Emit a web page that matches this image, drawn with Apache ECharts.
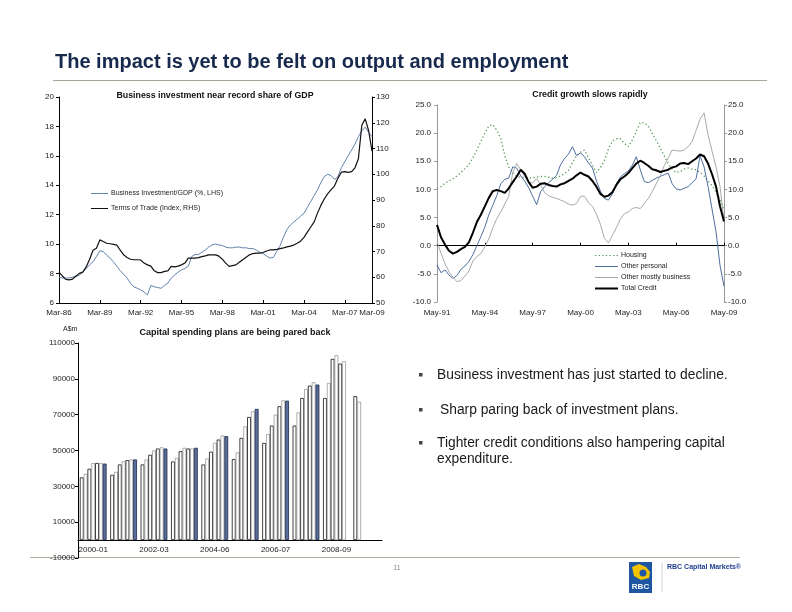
<!DOCTYPE html>
<html><head><meta charset="utf-8">
<script src="https://cdn.jsdelivr.net/npm/echarts@6/dist/echarts.min.js"></script>
<style>html,body{margin:0;padding:0;background:#fff}#c{width:792px;height:612px}</style>
</head><body><div id="c"></div>
<script>
const FONT = '"Liberation Sans", Arial, sans-serif';

// ---- Chart 1: Business investment near record share of GDP (quarterly)
const bizQuarters = [
'Mar-86','Jun-86','Sep-86','Dec-86','Mar-87','Jun-87','Sep-87','Dec-87',
'Mar-88','Jun-88','Sep-88','Dec-88','Mar-89','Jun-89','Sep-89','Dec-89',
'Mar-90','Jun-90','Sep-90','Dec-90','Mar-91','Jun-91','Sep-91','Dec-91',
'Mar-92','Jun-92','Sep-92','Dec-92','Mar-93','Jun-93','Sep-93','Dec-93',
'Mar-94','Jun-94','Sep-94','Dec-94','Mar-95','Jun-95','Sep-95','Dec-95',
'Mar-96','Jun-96','Sep-96','Dec-96','Mar-97','Jun-97','Sep-97','Dec-97',
'Mar-98','Jun-98','Sep-98','Dec-98','Mar-99','Jun-99','Sep-99','Dec-99',
'Mar-00','Jun-00','Sep-00','Dec-00','Mar-01','Jun-01','Sep-01','Dec-01',
'Mar-02','Jun-02','Sep-02','Dec-02','Mar-03','Jun-03','Sep-03','Dec-03',
'Mar-04','Jun-04','Sep-04','Dec-04','Mar-05','Jun-05','Sep-05','Dec-05',
'Mar-06','Jun-06','Sep-06','Dec-06','Mar-07','Jun-07','Sep-07','Dec-07',
'Mar-08','Jun-08','Sep-08','Dec-08','Mar-09'];
const bizInvestGDP = [
7.75,7.7,7.7,7.7, 7.75,7.8,7.9,8.1, 8.35,8.6,8.8,9.15, 9.55,9.5,9.25,9.05,
8.8,8.5,8.2,7.95, 7.7,7.35,7.1,7.0, 6.9,6.75,6.55,7.2, 7.1,7.05,7.0,7.2,
7.35,7.7,7.9,8.1, 8.25,8.35,8.5,9.15, 9.3,9.3,9.45,9.6, 9.8,9.95,10.0,9.95,
9.9,9.8,9.75,9.75, 9.8,9.8,9.75,9.75, 9.7,9.7,9.6,9.45, 9.35,9.2,9.05,9.1,
9.5,9.9,10.5,11.0, 11.3,11.5,11.7,11.9, 12.1,12.5,12.9,13.3, 13.7,14.2,14.6,14.75,
14.65,14.4,14.6,15.2, 15.6,16.0,16.4,16.8, 17.3,17.7,17.95,17.6, 17.3];
const termsOfTrade = [
62,60.5,59.2,59, 59.3,60.5,61.5,62, 64,67,70.5,71.3, 74.5,73.9,73.2,73,
72.8,72.5,70.5,68.7, 67.7,67,66.8,66.8, 66.7,65.5,64.8,64.3, 62.5,61.8,61.8,62.3,
62.5,64.2,64,64.3, 64.8,65.5,67.4,67.4, 67.4,67.6,68,68.3, 68.7,68.7,68.7,68.2,
67,65.5,64.2,64.5, 64.8,65.8,66.8,67.8, 68.7,69.2,69.4,69.4, 69.6,70.2,70.6,70.6,
70.8,71.1,71.4,71.8, 72.1,72.5,73.2,74, 75.5,77.5,79.5,81.5, 85,88,90.5,92.5,
94,95.5,98.5,100.8, 101,100.7,101,102.5, 106,119,121.5,117, 109];

// ---- Chart 2: Credit growth slows rapidly (quarterly readings, % y/y)
const creditMonths = [
'May-91','Aug-91','Nov-91','Feb-92','May-92','Aug-92','Nov-92','Feb-93',
'May-93','Aug-93','Nov-93','Feb-94','May-94','Aug-94','Nov-94','Feb-95',
'May-95','Aug-95','Nov-95','Feb-96','May-96','Aug-96','Nov-96','Feb-97',
'May-97','Aug-97','Nov-97','Feb-98','May-98','Aug-98','Nov-98','Feb-99',
'May-99','Aug-99','Nov-99','Feb-00','May-00','Aug-00','Nov-00','Feb-01',
'May-01','Aug-01','Nov-01','Feb-02','May-02','Aug-02','Nov-02','Feb-03',
'May-03','Aug-03','Nov-03','Feb-04','May-04','Aug-04','Nov-04','Feb-05',
'May-05','Aug-05','Nov-05','Feb-06','May-06','Aug-06','Nov-06','Feb-07',
'May-07','Aug-07','Nov-07','Feb-08','May-08','Aug-08','Nov-08','Feb-09','May-09'];
const housing = [
10.2,10.5,11.1,11.5,11.9,12.4,13.0,13.7,14.4,15.6,
17.0,18.5,20.0,21.3,21.5,20.5,19.1,16.0,14.0,13.0,
12.3,12.2,12.1,12.0,12.1,12.2,12.3,12.3,12.2,12.0,
12.1,12.4,12.8,13.4,14.8,16.0,16.6,17.0,15.6,14.3,
13.0,13.9,15.1,17.2,18.6,19.0,19.0,18.2,17.6,18.8,
20.3,21.9,21.8,21.3,20.0,18.7,17.4,16.0,14.6,13.6,
13.0,13.2,13.6,13.8,13.6,13.5,13.0,12.4,11.5,10.7,
9.5,8.2,6.3];
const otherPersonal = [
-3.4,-4.8,-4.3,-5.2,-5.8,-5.3,-4.2,-3.6,-2.8,-1.6,
0.0,1.6,3.3,5.5,7.2,8.9,11.0,11.8,12.0,14.0,
13.8,12.4,11.5,10.3,8.8,7.3,9.6,10.5,11.2,11.8,
12.5,14.4,15.5,16.3,17.6,16.0,16.5,15.8,14.7,13.8,
11.5,9.7,8.4,8.1,9.2,11.0,12.2,12.8,13.3,14.3,
15.8,13.5,11.4,11.2,11.6,12.0,12.3,12.6,12.9,11.0,
10.1,9.9,10.2,10.5,11.2,11.9,16.0,14.0,10.5,6.5,
2.5,-3.5,-7.2];
const otherBusiness = [
0.7,-1.3,-3.2,-4.6,-5.6,-6.4,-6.2,-5.4,-4.5,-2.7,
-1.9,-1.4,-0.2,1.2,3.2,4.8,6.0,7.4,8.8,13.0,
14.6,13.5,12.3,11.2,11.2,11.9,10.8,9.4,8.9,8.6,
8.4,8.1,7.8,7.4,7.2,7.5,8.8,8.8,7.6,7.0,
5.6,3.8,1.3,0.5,1.8,3.2,4.7,5.7,6.0,6.6,
6.8,6.6,7.5,8.4,9.6,11.0,12.4,14.2,15.6,17.0,
16.9,16.8,17.0,17.6,18.5,20.5,22.5,23.6,19.7,16.8,
14.0,10.5,4.5];
const totalCredit = [
3.7,1.5,0.2,-0.9,-1.4,-1.1,-0.6,-0.2,0.6,2.3,
4.2,5.5,7.0,8.5,9.7,9.9,9.7,9.4,10.2,11.3,
12.3,13.5,12.8,11.3,10.3,10.5,11.0,11.1,10.8,10.6,
10.5,10.9,11.1,11.5,11.9,12.5,13.0,12.6,12.3,11.5,
10.5,9.2,8.7,8.9,9.5,10.8,11.8,12.3,12.9,13.8,
14.6,15.1,14.7,14.2,13.6,13.4,13.1,13.3,13.5,13.9,
14.1,14.6,14.7,14.5,15.0,15.5,16.2,15.9,14.6,12.7,
10.5,7.0,4.3];

// ---- Chart 3: Capital spending plans (A$m), successive estimates per financial year
const capexYears = ['2000-01','2001-02','2002-03','2003-04','2004-06','2005-06','2006-07','2007-08','2008-09','2009-10'];
const capexEst1 = [35000,36400,42200,43900,42200,45200,54200,63900,79300,80300];
const capexEst2 = [37000,38100,45000,45900,45500,49000,59200,71300,87700,77300];
const capexEst3 = [39800,42200,47600,49600,49300,57000,63900,79300,101100,null];
const capexEst4 = [43000,44000,50000,51500,54300,63500,70000,84300,103200,null];
const capexEst5 = [43000,44600,51100,51100,56100,68700,74700,86200,98500,null];
const capexEst6 = [43000,45000,51800,51100,58400,71900,78000,88100,99800,null];
const capexActual = [42700,45000,51100,51500,58000,73200,77800,86800,null,null];

const lab = {fontSize:8, color:'#222', fontFamily:FONT};
const blk = {color:'#000', width:1};
const bizInt = (i) => i % 12 === 0 || i === bizQuarters.length - 1;
const DOTS = 'path://M0,0h1.3v1h-1.3zM3.5,0h1.3v1h-1.3zM7,0h1.3v1h-1.3zM10.5,0h1.3v1h-1.3zM14,0h1.3v1h-1.3zM17.5,0h1.3v1h-1.3zM21,0h1.3v1h-1.3z';

function txt(x, y, text, font, fill, align) {
  return {type:'text', x:x, y:y, silent:true,
    style:{text:text, font:font, fill:fill||'#222', align:align||'left', verticalAlign:'middle',
           textAlign:align||'left', textVerticalAlign:'middle'}};
}
function hline(x1, y1, x2, y2, color, w) {
  return {type:'line', silent:true, shape:{x1:x1,y1:y1,x2:x2,y2:y2}, style:{stroke:color, lineWidth:w||1}};
}
function leg(name, left, top, w, h, icon) {
  return {left:left, top:top, padding:0, orient:'vertical', itemWidth:w, itemHeight:h, selectedMode:false,
    data:[{name:name, icon:icon}], textStyle:{fontSize:7, color:'#222', fontFamily:FONT, padding:[0,0,0,-2]}};
}

const barSeries = [capexEst1, capexEst2, capexEst3, capexEst4, capexEst5, capexEst6, capexActual].map((d, k) => ({
  type:'bar', name: k === 6 ? 'Actual' : 'Estimate ' + (k+1), xAxisIndex:3, yAxisIndex:4, data:d,
  barGap:'0%', barCategoryGap:'12%',
  itemStyle: k === 6 ? {color:'#5b6f9c', borderColor:'#1b2a4a', borderWidth:0.8}
                      : {color:'#ffffff', borderColor: (k % 2 === 0) ? '#111' : '#9a9a9a', borderWidth:0.8}
}));

const option = {
  animation:false,
  backgroundColor:'#fff',
  textStyle:{fontFamily:FONT},
  grid:[
    {left:59, top:97, width:313, height:206},
    {left:437, top:105, width:287, height:197},
    {left:78, top:343, width:304, height:215}
  ],
  xAxis:[
    {gridIndex:0, type:'category', data:bizQuarters, boundaryGap:false,
     axisLine:{lineStyle:blk}, axisTick:{inside:true, length:3, interval:bizInt, lineStyle:blk},
     axisLabel:Object.assign({interval:bizInt, margin:6}, lab)},
    {gridIndex:1, type:'category', data:creditMonths, boundaryGap:false,
     axisLine:{show:false, onZero:false}, axisTick:{show:false},
     axisLabel:Object.assign({interval:11, margin:7}, lab)},
    {gridIndex:1, type:'category', data:creditMonths, boundaryGap:false,
     axisLine:{onZero:true, lineStyle:blk}, axisTick:{interval:11, length:3, lineStyle:blk},
     axisLabel:{show:false}},
    {gridIndex:2, type:'category', data:capexYears,
     axisLine:{onZero:true, lineStyle:blk}, axisTick:{inside:true, length:3, interval:0, lineStyle:blk},
     axisLabel:Object.assign({interval:1, margin:-12}, lab)}
  ],
  yAxis:[
    {gridIndex:0, type:'value', min:6, max:20, interval:2, position:'left',
     axisLine:{show:true, lineStyle:blk}, axisTick:{show:true, length:3, lineStyle:blk},
     splitLine:{show:false}, axisLabel:Object.assign({margin:5}, lab)},
    {gridIndex:0, type:'value', min:50, max:130, interval:10, position:'right',
     axisLine:{show:true, lineStyle:blk}, axisTick:{show:true, length:3, lineStyle:blk},
     splitLine:{show:false}, axisLabel:Object.assign({margin:4}, lab)},
    {gridIndex:1, type:'value', min:-10, max:25, interval:5, position:'left',
     axisLine:{show:true, lineStyle:{color:'#999'}}, axisTick:{show:true, length:3, lineStyle:{color:'#999'}},
     splitLine:{show:false}, axisLabel:Object.assign({margin:6, formatter:(v)=>v.toFixed(1)}, lab)},
    {gridIndex:1, type:'value', min:-10, max:25, interval:5, position:'right',
     axisLine:{show:true, lineStyle:{color:'#999'}}, axisTick:{show:true, length:3, lineStyle:{color:'#999'}},
     splitLine:{show:false}, axisLabel:Object.assign({margin:4, formatter:(v)=>v.toFixed(1)}, lab)},
    {gridIndex:2, type:'value', min:-10000, max:110000, interval:20000, position:'left',
     axisLine:{show:true, lineStyle:blk}, axisTick:{show:true, length:3, lineStyle:blk},
     splitLine:{show:false}, axisLabel:Object.assign({margin:3, formatter:(v)=>String(v)}, lab)}
  ],
  legend:[
    leg('Business Investment/GDP (%, LHS)', 91, 190, 17, 1, 'rect'),
    leg('Terms of Trade (Index, RHS)', 91, 205, 17, 1, 'rect'),
    leg('Housing', 595, 252, 23, 1.3, DOTS),
    leg('Other personal', 595, 263, 23, 1, 'rect'),
    leg('Other mostly business', 595, 274, 23, 1, 'rect'),
    leg('Total Credit', 595, 285, 23, 2, 'rect')
  ],
  series:[
    {type:'line', name:'Business Investment/GDP (%, LHS)', xAxisIndex:0, yAxisIndex:0, data:bizInvestGDP,
     symbol:'none', lineStyle:{color:'#6383ad', width:1}, itemStyle:{color:'#6383ad'}},
    {type:'line', name:'Terms of Trade (Index, RHS)', xAxisIndex:0, yAxisIndex:1, data:termsOfTrade,
     symbol:'none', lineStyle:{color:'#111', width:1.2}, itemStyle:{color:'#111'}},
    {type:'line', name:'Housing', xAxisIndex:1, yAxisIndex:2, data:housing,
     symbol:'none', lineStyle:{color:'#5f9a5f', width:1.3, type:[1.3,2.4]}, itemStyle:{color:'#5f9a5f'}},
    {type:'line', name:'Other personal', xAxisIndex:1, yAxisIndex:2, data:otherPersonal,
     symbol:'none', lineStyle:{color:'#4d6f9f', width:1}, itemStyle:{color:'#4d6f9f'}},
    {type:'line', name:'Other mostly business', xAxisIndex:1, yAxisIndex:2, data:otherBusiness,
     symbol:'none', lineStyle:{color:'#a9a9a9', width:1}, itemStyle:{color:'#a9a9a9'}},
    {type:'line', name:'Total Credit', xAxisIndex:1, yAxisIndex:2, data:totalCredit,
     symbol:'none', lineStyle:{color:'#000', width:2}, itemStyle:{color:'#000'}}
  ].concat(barSeries),
  graphic:{elements:[
    txt(55, 62, 'The impact is yet to be felt on output and employment', 'bold 20px ' + FONT, '#17294d'),
    hline(53, 80.5, 767, 80.5, '#a9a699', 1),
    txt(215, 96, 'Business investment near record share of GDP', 'bold 8.8px ' + FONT, '#111', 'center'),
    txt(590, 95, 'Credit growth slows rapidly', 'bold 8.8px ' + FONT, '#111', 'center'),
    txt(235, 333, 'Capital spending plans are being pared back', 'bold 9px ' + FONT, '#111', 'center'),
    txt(63, 329, 'A$m', '7px ' + FONT, '#222'),
    {type:'rect', silent:true, shape:{x:419, y:373, width:3.5, height:3.5}, style:{fill:'#444'}},
    {type:'rect', silent:true, shape:{x:419, y:408, width:3.5, height:3.5}, style:{fill:'#444'}},
    {type:'rect', silent:true, shape:{x:419, y:441, width:3.5, height:3.5}, style:{fill:'#444'}},
    txt(437, 375, 'Business investment has just started to decline.', '13.8px ' + FONT, '#1a1a1a'),
    txt(440, 410, 'Sharp paring back of investment plans.', '13.8px ' + FONT, '#1a1a1a'),
    txt(437, 443, 'Tighter credit conditions also hampering capital', '13.8px ' + FONT, '#1a1a1a'),
    txt(437, 459, 'expenditure.', '13.8px ' + FONT, '#1a1a1a'),
    hline(30, 557.5, 740, 557.5, '#b2ae9f', 1),
    txt(397, 568, '11', '7px ' + FONT, '#888', 'center'),
    {type:'rect', silent:true, shape:{x:629, y:562, width:23, height:31}, style:{fill:'#1f56a3'}},
    {type:'polygon', silent:true, shape:{points:[[632,567],[639,564],[646,567],[650,572],[649,578],[641,580],[634,576]]}, style:{fill:'#f2c400'}},
    {type:'circle', silent:true, shape:{cx:643, cy:573, r:3.5}, style:{fill:'#1f56a3'}},
    txt(640.5, 587, 'RBC', 'bold 8px ' + FONT, '#fff', 'center'),
    hline(662, 563, 662, 592, '#d0d0d0', 1),
    txt(667, 567, 'RBC Capital Markets®', 'bold 7px ' + FONT, '#1e3f8e')
  ]}
};

const chart = echarts.init(document.getElementById('c'), null, {renderer:'canvas'});
chart.setOption(option);
</script>
</body></html>
